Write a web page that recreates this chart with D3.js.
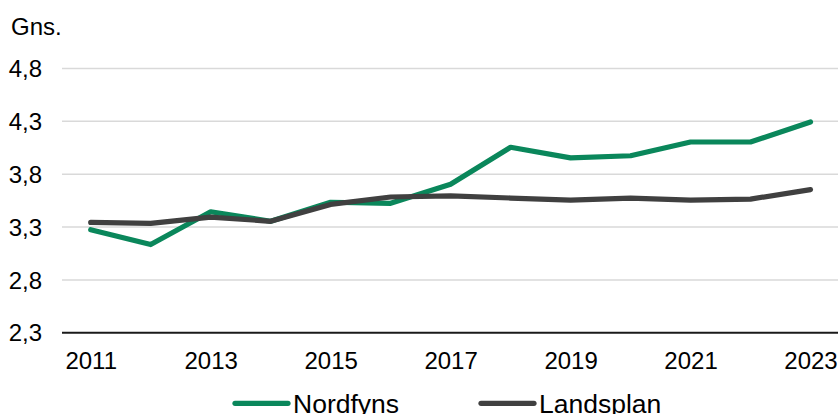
<!DOCTYPE html>
<html><head><meta charset="utf-8">
<script src="https://cdn.jsdelivr.net/npm/d3@7"></script>
<style>html,body{margin:0;padding:0;background:#fff;}svg{display:block;}</style>
</head><body>
<svg id="c" width="838" height="414"></svg>
<script>
const years = [2011,2012,2013,2014,2015,2016,2017,2018,2019,2020,2021,2022,2023];
const nordfyns = [3.27,3.13,3.44,3.35,3.53,3.52,3.70,4.05,3.95,3.97,4.10,4.10,4.29];
const landsplan = [3.34,3.33,3.39,3.35,3.51,3.58,3.59,3.57,3.55,3.57,3.55,3.56,3.65];
const yTicks = [2.3,2.8,3.3,3.8,4.3,4.8];
const xTickYears = [2011,2013,2015,2017,2019,2021,2023];
const seriesNames = ["Nordfyns","Landsplan"];
const colors = ["#0a875b","#404040"];

const svg = d3.select("#c");
const font = "'Liberation Sans', Arial, sans-serif";
const plotLeft = 62, plotRight = 838;
const x = d3.scalePoint().domain(years).range([90.7, 810.5]);
const y = d3.scaleLinear().domain([2.3,4.8]).range([332.3, 68]);

// gridlines
const yAxis = d3.axisLeft(y).tickValues(yTicks).tickSize(-(plotRight-plotLeft)).tickPadding(20)
  .tickFormat(d => d3.format(".1f")(d).replace(".", ","));
const gy = svg.append("g").attr("transform", `translate(${plotLeft},0)`).call(yAxis);
gy.select(".domain").remove();
gy.selectAll(".tick line").attr("stroke","#d9d9d9").attr("stroke-width",1.5);
gy.selectAll(".tick text").attr("font-family",font).attr("font-size",24).attr("fill","#000")
  .attr("x",-20).attr("dy","0.36em");
gy.selectAll(".tick").filter(d => d === 2.3).select("line").attr("stroke","#1a1a1a").attr("stroke-width",2);

// x axis labels
const xAxis = d3.axisBottom(x).tickValues(xTickYears).tickSize(0).tickPadding(0);
const gx = svg.append("g").attr("transform","translate(0,332.3)").call(xAxis);
gx.select(".domain").remove();
gx.selectAll(".tick text").attr("font-family",font).attr("font-size",24).attr("fill","#000")
  .attr("y",37).attr("dy",0);

// title
svg.append("text").attr("x",11).attr("y",34.5).attr("font-family",font).attr("font-size",24)
  .attr("fill","#000").text("Gns.");

// lines
const line = d3.line().x((d,i)=>x(years[i])).y(d=>y(d));
[nordfyns, landsplan].forEach((s,i)=>{
  svg.append("path").datum(s).attr("d",line).attr("fill","none")
    .attr("stroke",colors[i]).attr("stroke-width",5.2)
    .attr("stroke-linejoin","round").attr("stroke-linecap","round");
});

// legend
const legendX = [235, 481];
seriesNames.forEach((n,i)=>{
  const g = svg.append("g");
  g.append("line").attr("x1",legendX[i]).attr("x2",legendX[i]+53).attr("y1",403.3).attr("y2",403.3)
    .attr("stroke",colors[i]).attr("stroke-width",5.2).attr("stroke-linecap","round");
  g.append("text").attr("x",legendX[i]+58).attr("y",412.5).attr("font-family",font)
    .attr("font-size",26.5).attr("fill","#000").text(n);
});
</script>
</body></html>
